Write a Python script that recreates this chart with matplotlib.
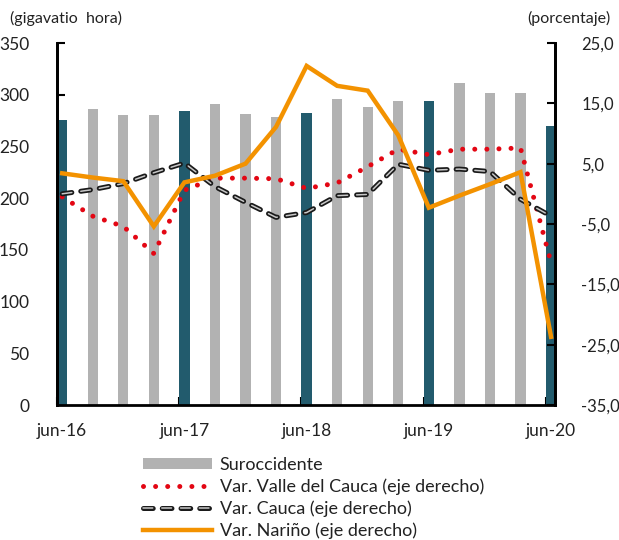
import matplotlib
matplotlib.use("Agg")
import matplotlib.pyplot as plt
import numpy as np
from matplotlib.lines import Line2D
from matplotlib.patches import Patch

plt.rcParams['font.family'] = ['Lato', 'DejaVu Sans']
plt.rcParams['lines.scale_dashes'] = False

# ---- data ----
periods = ['jun-16', 'sep-16', 'dic-16', 'mar-17', 'jun-17', 'sep-17', 'dic-17', 'mar-18',
           'jun-18', 'sep-18', 'dic-18', 'mar-19', 'jun-19', 'sep-19', 'dic-19', 'mar-20', 'jun-20']
suroccidente = [276, 286, 280, 280, 284, 291, 281, 278, 282, 296, 288, 294, 294, 311, 302, 302, 270]
valle = [-0.5, -3.7, -5.4, -9.9, 0.6, 2.6, 2.6, 2.5, 0.9, 1.8, 4.5, 7.4, 6.5, 7.4, 7.4, 7.6, -11.4]
cauca = [0.0, 0.7, 1.7, 3.5, 5.1, 1.2, -1.4, -3.9, -3.1, -0.3, -0.1, 4.9, 3.9, 4.1, 3.7, -0.9, -3.7]
narino = [3.4, 2.7, 2.1, -5.4, 1.9, 3.0, 5.0, 11.1, 21.2, 17.9, 17.1, 9.7, -2.3, -0.3, 1.6, 3.6, -23.7]
tick_labels = ['jun-16', 'jun-17', 'jun-18', 'jun-19', 'jun-20']

teal = '#225B6D'
gray = '#B2B2B2'
orange = '#F39200'
red = '#E30613'
txt = '#222222'

fig = plt.figure(figsize=(6.19, 5.40), dpi=100)
ax = fig.add_axes([57/619, 1-405/540, (555-57)/619, (405-43)/540])
ax2 = ax.twinx()

x = np.arange(len(periods))
colors = [teal if p.startswith('jun') else gray for p in periods]
ax.bar(x, suroccidente, width=0.34, color=colors, zorder=2)

ax2.plot(x, valle, color=red, lw=3.6, dashes=(0.01, 8.7), dash_capstyle='round')
ax2.plot(x, cauca, color='#1a1a1a', lw=3.6, dashes=(7, 6.5), dash_capstyle='round')
ax2.plot(x, cauca, color='#c8c8c8', lw=1.1, dashes=(7, 6.5), dash_capstyle='round')
ax2.plot(x, narino, color=orange, lw=3.2, solid_joinstyle='miter')

ax.set_xlim(-0.15, 16.13)
ax.set_ylim(0, 350)
ax2.set_ylim(-35, 25)

ax.set_yticks(np.arange(0, 351, 50))
ax2.set_yticks(np.arange(-35, 26, 10))
ax2.set_yticklabels([f"{v:.1f}".replace('.', ',') for v in np.arange(-35, 26, 10)])

tick_pos = [i for i, p in enumerate(periods) if p in tick_labels]
ax.set_xticks(tick_pos)
ax.set_xticklabels(tick_labels)
ax.tick_params(axis='x', length=0, pad=13, labelsize=12.5, colors=txt)
ax.set_xticks([p - 0.17 for p in tick_pos], minor=True)
ax.tick_params(axis='x', which='minor', direction='in', length=6, width=1.5, color='black')

ax.tick_params(axis='y', direction='in', length=6, width=1.5, pad=20, labelsize=12.5,
               labelcolor=txt, color='black')
ax2.tick_params(axis='y', direction='in', length=6, width=1.5, pad=19, labelsize=12,
                labelcolor=txt, color='black')

for a in (ax, ax2):
    a.spines['top'].set_visible(False)
    for s in ('left', 'right', 'bottom'):
        a.spines[s].set_linewidth(2)
ax2.spines['bottom'].set_visible(False)

fig.text(10/619, 1-18/540, '(gigavatio  hora)', fontsize=11.5, va='center', ha='left', color=txt)
fig.text(610/619, 1-18/540, '(porcentaje)', fontsize=11.5, va='center', ha='right', color=txt)

handles = [
    Patch(facecolor=gray, edgecolor='none'),
    Line2D([], [], color=red, lw=3.6, dashes=(0.01, 8.7), dash_capstyle='round'),
    (Line2D([], [], color='#1a1a1a', lw=3.6, dashes=(7, 6.5), dash_capstyle='round'),
     Line2D([], [], color='#c8c8c8', lw=1.1, dashes=(7, 6.5), dash_capstyle='round')),
    Line2D([], [], color=orange, lw=3.2),
]
labels = ['Suroccidente', 'Var. Valle del Cauca (eje derecho)', 'Var. Cauca (eje derecho)',
          'Var. Nariño (eje derecho)']
fig.legend(handles, labels, loc='upper left', bbox_to_anchor=(143/619, 1-457/540),
           frameon=False, fontsize=13, handlelength=3.8, handleheight=0.6,
           handletextpad=0.44, labelspacing=0.3, borderaxespad=0, borderpad=0,
           labelcolor=txt)

fig.savefig('out.png', dpi=100)
